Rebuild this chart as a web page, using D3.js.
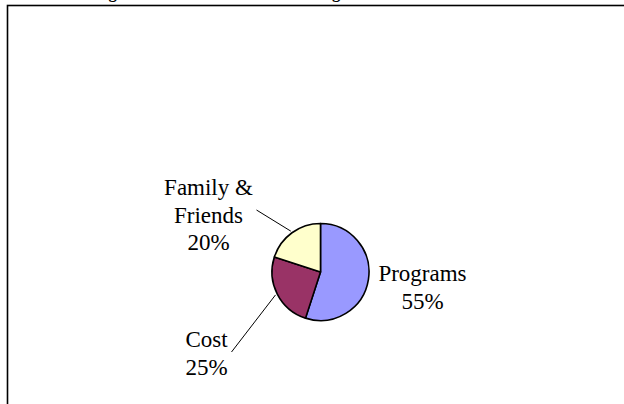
<!DOCTYPE html>
<html>
<head>
<meta charset="utf-8">
<script src="https://cdn.jsdelivr.net/npm/d3@7"></script>
<style>
  html, body { margin: 0; padding: 0; background: #ffffff; }
  svg { display: block; }
  text { font-family: "Liberation Serif", "Times New Roman", serif; fill: #000; }
</style>
</head>
<body>
<svg id="chart" width="624" height="404"></svg>
<script>
// ---- data ----
const categories = ["Programs", "Cost", "Family & Friends"];
const values = [55, 25, 20];
const labelLines = [["Programs", "55%"], ["Cost", "25%"], ["Family &", "Friends", "20%"]];
const sliceColors = ["#9999FF", "#993366", "#FFFFCC"];
const titleText = "Reasons for Choosing the Current Child Care Setting";

// ---- layout ----
const W = 624, H = 404;
const cx = 320.5, cy = 272, R = 48.5;
const fontSize = 23, lineH = 27.5;

const svg = d3.select("#chart");

// clipped title (only descenders visible above the frame)
svg.append("text")
  .attr("x", -36).attr("y", -2)
  .style("font-weight", "bold").style("font-size", "16.5px")
  .text(titleText);

// frame
svg.append("rect")
  .attr("x", 7.5).attr("y", 5.5).attr("width", 700).attr("height", 500)
  .attr("fill", "none").attr("stroke", "#000").attr("stroke-width", 1.6);

const color = d3.scaleOrdinal().domain(categories).range(sliceColors);
const pie = d3.pie().sort(null).value(d => d.value);
const data = categories.map((c, i) => ({ name: c, value: values[i], lines: labelLines[i] }));
const arcs = pie(data);
const arc = d3.arc().innerRadius(0).outerRadius(R);

const g = svg.append("g").attr("transform", `translate(${cx},${cy})`);
g.selectAll("path").data(arcs).join("path")
  .attr("d", arc)
  .attr("fill", d => color(d.data.name))
  .attr("stroke", "#000").attr("stroke-width", 1.6).attr("stroke-linejoin", "round");

// label placement (layout offsets relative to pie centre)
const labelPos = {
  "Programs": { x: 102, y: 9, leader: null },
  "Cost": { x: -114, y: 75, leader: [-89, 80] },
  "Family & Friends": { x: -112, y: -77, leader: [-64, -62] }
};

arcs.forEach(a => {
  const p = labelPos[a.data.name];
  const mid = (a.startAngle + a.endAngle) / 2;
  if (p.leader) {
    const r0 = R + 2;
    const sx = Math.sin(mid) * r0, sy = -Math.cos(mid) * r0;
    g.append("line")
      .attr("x1", sx).attr("y1", sy)
      .attr("x2", p.leader[0]).attr("y2", p.leader[1])
      .attr("stroke", "#000").attr("stroke-width", 1);
  }
  const t = g.append("text")
    .attr("text-anchor", "middle")
    .style("font-size", fontSize + "px");
  a.data.lines.forEach((ln, i) => {
    t.append("tspan").attr("x", p.x).attr("y", p.y + i * lineH).text(ln);
  });
});
</script>
</body>
</html>
